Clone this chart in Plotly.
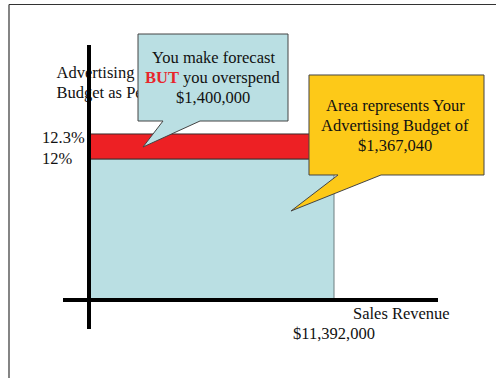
import plotly.graph_objects as go

# ---- data ----
sales_revenue = 11392000          # dollars
pct_levels = [12.0, 12.3]         # planned %, actual %
pct_labels = ["12%", "12.3%"]
budget_planned = 1367040          # = 12% of sales
budget_actual = 1400000
band_exaggeration = 7.1           # diagram draws the 0.3-pt overspend band enlarged

W, H = 496, 378
FONT = "Liberation Serif"
FS = 16.5
BLUE = "#badfe3"
RED = "#ed2024"
YELLOW = "#fdc918"
LINE_GAP = 20

# layout geometry (pixels) -> axis ranges
x_origin_px, x_rev_px = 89, 334
y_origin_px, y_12_px = 300, 159
ppx = (x_rev_px - x_origin_px) / sales_revenue
ppy = (y_origin_px - y_12_px) / pct_levels[0]
x_range = [-x_origin_px / ppx, (W - x_origin_px) / ppx]
y_range = [-(H - y_origin_px) / ppy, y_origin_px / ppy]

def px(x):
    return x / W

def py(y):
    return 1 - y / H

planned = pct_levels[0]
actual_disp = planned + (pct_levels[1] - pct_levels[0]) * band_exaggeration

fig = go.Figure()
fig.add_trace(go.Scatter(
    x=[0, sales_revenue, sales_revenue, 0, 0], y=[0, 0, planned, planned, 0],
    fill="toself", fillcolor=BLUE, mode="lines",
    line=dict(color="#6f7f80", width=1), hoverinfo="skip", showlegend=False))
fig.add_trace(go.Scatter(
    x=[0, sales_revenue, sales_revenue, 0, 0], y=[planned, planned, actual_disp, actual_disp, planned],
    fill="toself", fillcolor=RED, mode="lines",
    line=dict(color="#3a2a2a", width=1), hoverinfo="skip", showlegend=False))

def path(points):
    return "M " + " L ".join(f"{px(a):.5f},{py(b):.5f}" for a, b in points) + " Z"

font = dict(family=FONT, size=FS, color="#111111")

shapes = [
    # outer frame
    dict(type="line", xref="paper", yref="paper", x0=px(9), x1=px(W + 5), y0=py(4.5), y1=py(4.5),
         line=dict(color="#333333", width=1.2), layer="above"),
    dict(type="line", xref="paper", yref="paper", x0=px(9), x1=px(9), y0=py(4.5), y1=py(H + 5),
         line=dict(color="#333333", width=1.2), layer="above"),
]
# y-axis title lines (as shape labels so the callout can cover them)
for i, line_text in enumerate(["Advertising", "Budget as Percent of Sales"]):
    yc = 71 + i * LINE_GAP
    shapes.append(dict(type="rect", xref="paper", yref="paper", x0=px(53.5), x1=px(330),
                       y0=py(yc + 9), y1=py(yc - 9),
                       line=dict(width=0), fillcolor="rgba(0,0,0,0)", layer="above",
                       label=dict(text=line_text, textposition="middle left", font=font, padding=0)))
shapes += [
    # axes
    dict(type="line", xref="x", yref="paper", x0=0, x1=0, y0=py(45), y1=py(329),
         line=dict(color="black", width=4), layer="above"),
    dict(type="line", xref="paper", yref="y", x0=px(63), x1=px(438), y0=0, y1=0,
         line=dict(color="black", width=4), layer="above"),
    # callouts
    dict(type="path", xref="paper", yref="paper", layer="above",
         path=path([(138, 34), (288, 34), (288, 121), (200, 121), (143, 147), (163, 121), (138, 121)]),
         fillcolor=BLUE, line=dict(color="#444444", width=1)),
    dict(type="path", xref="paper", yref="paper", layer="above",
         path=path([(309, 75), (484, 75), (484, 175), (381, 175), (291, 211), (338, 175), (309, 175)]),
         fillcolor=YELLOW, line=dict(color="#444444", width=1)),
]

annotations = [
    dict(text=pct_labels[1], x=px(40), xref="paper", y=actual_disp, yref="y",
         xanchor="left", yanchor="middle", yshift=-4, showarrow=False, font=font),
    dict(text=pct_labels[0], x=px(40), xref="paper", y=planned, yref="y",
         xanchor="left", yanchor="middle", yshift=1, showarrow=False, font=font),
    dict(text="Sales Revenue", x=px(351), xref="paper", y=py(313), yref="paper",
         xanchor="left", yanchor="middle", showarrow=False, font=font),
    dict(text=f"${sales_revenue:,}", x=sales_revenue, xref="x", y=py(333), yref="paper",
         xanchor="center", yanchor="middle", showarrow=False, font=font),
]

def text_block(lines, xc, y_first):
    for i, t in enumerate(lines):
        annotations.append(dict(text=t, x=px(xc), xref="paper", y=py(y_first + i * LINE_GAP),
                                yref="paper", xanchor="center", yanchor="middle",
                                showarrow=False, font=font))

text_block(["You make forecast",
            "<b><span style='color:#e8262b'>BUT</span></b> you overspend",
            f"${budget_actual:,}"], 213, 57)
text_block(["Area represents Your", "Advertising Budget of", f"${budget_planned:,}"], 395, 105)

fig.update_layout(
    width=W, height=H, margin=dict(l=0, r=0, t=0, b=0),
    paper_bgcolor="white", plot_bgcolor="white",
    xaxis=dict(range=x_range, visible=False, fixedrange=True),
    yaxis=dict(range=y_range, visible=False, fixedrange=True),
    shapes=shapes, annotations=annotations, showlegend=False,
)
fig.write_html("out.html")
